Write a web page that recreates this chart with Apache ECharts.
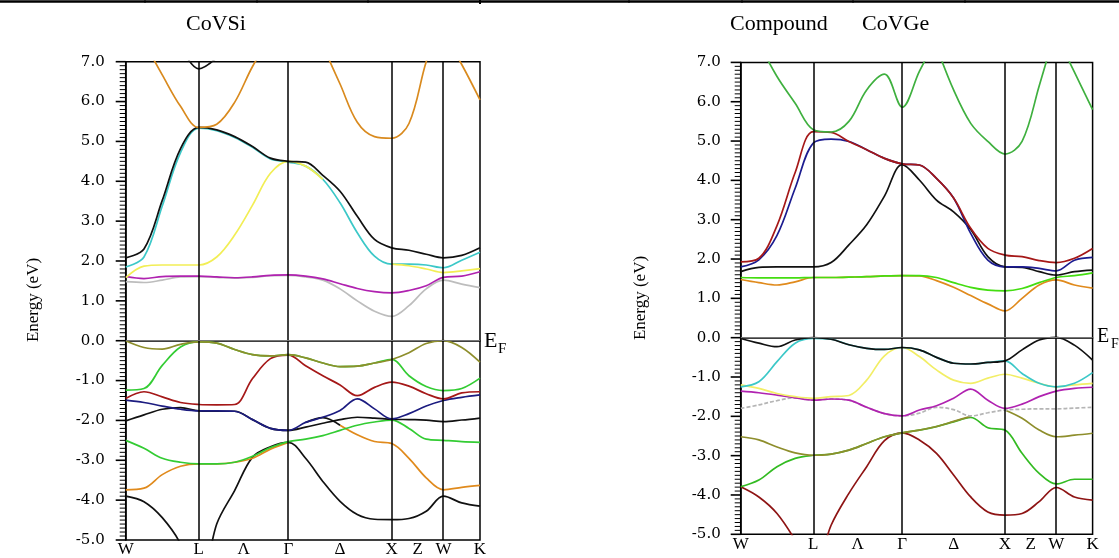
<!DOCTYPE html>
<html>
<head>
<meta charset="utf-8">
<script src="https://cdn.jsdelivr.net/npm/echarts@6/dist/echarts.min.js"></script>
<style>
  html, body { margin: 0; padding: 0; background: #fff; }
  #chart { width: 1119px; height: 558px; }
</style>
</head>
<body>
<div id="chart"></div>
<script>
// k-path position (2pi/a units): W - L - Gamma - X - W - K
var kPath = [0, 0.1768, 0.3536, 0.5303, 0.7071, 0.8803, 1.0535, 1.2267, 1.3999, 1.5731,
             1.7398, 1.9064, 2.0731, 2.2398, 2.4064, 2.5731, 2.7398, 2.9064, 3.0731, 3.2499, 3.4267];
var kEnd = 3.4267;
var symK = [0.7071, 1.5731, 2.5731, 3.0731];
var labelK = [0, 0.7071, 1.1401, 1.5731, 2.0731, 2.5731, 2.8231, 3.0731, 3.4267];
var labelText = ["W", "L", "Λ", "Γ", "Δ", "X", "Z", "W", "K"];
var _ = "-";

// CoVSi bands (eV)
var siBlackLow  = [-3.9, -4.04, -4.44, -5.1, -6.3, -4.6, -3.76, -2.92, -2.66, -2.55, -2.95, -3.53, -4.03, -4.36, -4.48, -4.49, -4.46, -4.28, -3.9, -4.07, -4.15];
var siOrangeLow = [-3.74, -3.7, -3.36, -3.15, -3.09, -3.09, -3.05, -2.95, -2.72, -2.55, _, _, -2.12, -2.36, -2.53, -2.58, -2.95, -3.44, -3.74, -3.68, -3.63];
var siGreen2    = [-2.5, -2.7, -2.95, -3.05, -3.09, -3.09, -3.05, -2.9, -2.68, -2.53, -2.47, -2.38, -2.25, -2.12, -2.04, -1.99, -2.2, -2.47, -2.5, -2.53, -2.55];
var siBlack2    = [-2.01, -1.86, -1.72, -1.68, -1.76, -1.77, -1.77, -1.98, -2.2, -2.25, -2.17, -2.07, -1.98, -1.92, -1.94, -1.97, -1.98, -1.99, -2.03, -1.99, -1.94];
var siBlackBump = [_, _, _, _, _, _, _, _, _, _, -2.05, -1.93, -2.12, _, _, _, _, _, _, _, _];
var siBlue      = [-1.49, -1.55, -1.64, -1.72, -1.76, -1.76, -1.77, -1.98, -2.2, -2.25, -2.05, -1.92, -1.75, -1.46, -1.71, -1.96, -1.83, -1.64, -1.5, -1.42, -1.36];
var siRed       = [-1.45, -1.28, -1.41, -1.55, -1.6, -1.61, -1.6, -0.95, -0.45, -0.36, -0.63, -0.88, -1.11, -1.38, -1.17, -1.04, -1.14, -1.33, -1.46, -1.31, -1.28];
var siGreen1    = [-1.24, -1.2, -0.62, -0.16, -0.03, -0.06, -0.22, -0.35, -0.38, -0.35, -0.43, -0.56, -0.65, -0.64, -0.56, -0.47, -0.88, -1.15, -1.25, -1.2, -0.94];
var siOlive     = [0.0, -0.17, -0.21, -0.09, -0.03, -0.06, -0.22, -0.35, -0.38, -0.35, -0.43, -0.56, -0.65, -0.64, -0.56, -0.47, -0.3, -0.07, 0.0, -0.17, -0.54];
var siGray      = [1.48, 1.46, 1.52, 1.6, 1.61, 1.59, 1.57, 1.59, 1.63, 1.64, 1.6, 1.52, 1.3, 1.0, 0.74, 0.61, 0.88, 1.3, 1.52, 1.42, 1.33];
var siMagenta   = [1.61, 1.56, 1.61, 1.62, 1.62, 1.6, 1.58, 1.6, 1.64, 1.65, 1.62, 1.55, 1.43, 1.31, 1.23, 1.2, 1.26, 1.38, 1.59, 1.62, 1.73];
var siCyan      = [1.85, 2.1, 3.38, 4.72, 5.33, 5.27, 5.1, 4.85, 4.56, 4.48, 4.38, 4.05, 3.46, 2.71, 2.12, 1.92, 1.92, 1.9, 1.83, 2.02, 2.22];
var siYellow    = [1.58, 1.87, 1.9, 1.9, 1.9, 2.1, 2.65, 3.4, 4.2, 4.5, 4.38, 4.05, _, _, _, 1.92, 1.88, 1.8, 1.71, 1.75, 1.81];
var siBlack     = [2.08, 2.3, 3.52, 4.82, 5.35, 5.29, 5.12, 4.87, 4.58, 4.5, 4.48, 4.15, 3.75, 3.12, 2.54, 2.33, 2.27, 2.17, 2.08, 2.14, 2.33];
var siOrangeTop1 = [_, 7.5, 6.67, 5.88, 5.35, 5.43, 5.98, 6.88, 7.6, _, _, _, _, _, _, _, _, _, _, _, _];
var siOrangeTop2 = [_, _, _, _, _, _, _, _, _, _, _, 7.4, 6.44, 5.48, 5.12, 5.08, 5.45, 7.0, 8.2, _, _];
var siOrangeTop3 = [_, _, _, _, _, _, _, _, _, _, _, _, _, _, _, _, _, _, 7.7, 6.93, 6.04];
var siBlackTop   = [_, _, _, 7.4, 6.82, 7.1, _, _, _, _, _, _, _, _, _, _, _, _, _, _, _];

// CoVGe bands (eV)
var geRedLow    = [-3.79, -4.05, -4.47, -5.15, -6.0, -4.77, -3.96, -3.28, -2.62, -2.42, -2.6, -2.94, -3.49, -4.05, -4.43, -4.51, -4.47, -4.17, -3.81, -4.05, -4.13];
var geGreenVal  = [-3.79, -3.62, -3.28, -3.07, -2.99, -2.96, -2.86, -2.69, -2.52, -2.42, -2.35, -2.26, -2.14, -2.03, -2.29, -2.35, -2.94, -3.45, -3.72, -3.6, -3.6];
var geOlive     = [-2.52, -2.6, -2.78, -2.93, -2.99, -2.96, -2.86, -2.69, -2.52, -2.42, -2.35, -2.26, -2.13, -2.0, _, -1.84, -2.05, -2.35, -2.52, -2.48, -2.43];
var geGray      = [-1.8, -1.71, -1.6, -1.53, -1.59, -1.56, -1.59, -1.77, -1.93, -1.99, -1.92, -1.77, -1.83, -1.99, -1.91, -1.84, -1.82, -1.81, -1.81, -1.79, -1.77];
var geMagenta   = [-1.36, -1.4, -1.46, -1.53, -1.59, -1.56, -1.59, -1.77, -1.93, -1.99, -1.84, -1.73, -1.54, -1.31, -1.59, -1.8, -1.69, -1.5, -1.36, -1.29, -1.26];
var geYellow    = [-1.2, -1.29, -1.42, -1.5, -1.54, -1.5, -1.47, -1.08, -0.46, -0.25, -0.48, -0.82, -1.08, -1.16, -1.03, -0.93, -1.03, -1.16, -1.25, -1.2, -1.16];
var geCyan      = [-1.25, -1.12, -0.61, -0.14, -0.02, -0.04, -0.18, -0.27, -0.3, -0.25, -0.31, -0.5, -0.65, -0.67, -0.63, -0.59, -0.91, -1.16, -1.25, -1.16, -0.89];
var geBlackVal  = [-0.02, -0.14, -0.23, -0.06, 0.0, -0.04, -0.18, -0.27, -0.3, -0.25, -0.31, -0.5, -0.65, -0.67, -0.63, -0.59, -0.31, -0.06, 0.01, -0.19, -0.57];
var geOrangeMid = [1.48, 1.4, 1.34, 1.42, 1.53, 1.53, 1.54, 1.55, 1.57, 1.58, 1.57, 1.45, 1.28, 1.07, 0.86, 0.68, 1.0, 1.34, 1.47, 1.34, 1.26];
var geGreenMid  = [1.53, 1.52, 1.52, 1.52, 1.53, 1.53, 1.54, 1.55, 1.57, 1.58, 1.58, 1.53, 1.4, 1.28, 1.21, 1.19, 1.25, 1.4, 1.53, 1.58, 1.65];
var geBlack     = [1.68, 1.79, 1.8, 1.8, 1.8, 1.91, 2.36, 2.87, 3.6, 4.4, 4.01, 3.5, 3.2, 2.75, 2.06, 1.8, 1.79, 1.68, 1.59, 1.68, 1.72];
var geBlue      = [1.8, 1.98, 2.6, 3.8, 4.95, 5.05, 4.99, 4.78, 4.56, 4.42, 4.39, 4.05, 3.55, 2.65, 1.97, 1.8, 1.8, 1.76, 1.7, 1.97, 2.04];
var geRed       = [1.93, 2.02, 2.85, 4.2, 5.24, 5.22, 4.99, 4.78, 4.56, 4.42, 4.39, 4.05, 3.55, 2.78, 2.27, 2.1, 2.06, 1.96, 1.91, 2.02, 2.27];
var geGreenTop1 = [_, 7.5, 6.64, 5.96, 5.29, 5.23, 5.5, 6.3, 6.7, 5.86, 6.77, 7.6, _, _, _, _, _, _, _, _, _];
var geGreenTop2 = [_, _, _, _, _, _, _, _, _, _, _, 7.4, 6.3, 5.45, 4.99, 4.67, 4.99, 6.4, 7.9, _, _];
var geGreenTop3 = [_, _, _, _, _, _, _, _, _, _, _, _, _, _, _, _, _, _, 7.7, 6.75, 5.8];

var siBands = [
  [siBlackLow, "#111"], [siOrangeLow, "#e08a1c"], [siGreen2, "#33cc33"], [siBlack2, "#111"],
  [siBlackBump, "#111"], [siBlue, "#1c1c80"], [siRed, "#a51818"], [siGreen1, "#33cc33"],
  [siOlive, "#8e8e2c"], [siGray, "#bdbdbd"], [siMagenta, "#b022b0"], [siCyan, "#3cc8c8"],
  [siYellow, "#f2ee55"], [siBlack, "#111"], [siOrangeTop1, "#d98a1e"], [siOrangeTop2, "#d98a1e"],
  [siOrangeTop3, "#d98a1e"], [siBlackTop, "#111"]
];
var geBands = [
  [geRedLow, "#8e1414"], [geGreenVal, "#33bb22"], [geOlive, "#8e8e2c"], [geGray, "#b5b5b5"],
  [geMagenta, "#b022b0"], [geYellow, "#f2ee66"], [geCyan, "#3cc8c8"], [geBlackVal, "#111"],
  [geOrangeMid, "#e08a1c"], [geGreenMid, "#44dd11"], [geBlack, "#111"], [geBlue, "#1c1c90"],
  [geRed, "#a51818"], [geGreenTop1, "#3fb03f"], [geGreenTop2, "#3fb03f"], [geGreenTop3, "#3fb03f"]
];

// y tick positions (eV)
var majorTicks = [], minorTicks = [];
for (var m = -50; m <= 70; m++) {
  if (m % 10 === 0) majorTicks.push(m / 10); else minorTicks.push(m / 10);
}

var serif = '"Liberation Serif", "DejaVu Serif", serif';
var numFont = '"DejaVu Serif", serif';

function makeX(idx) {
  return {
    gridIndex: idx, type: "value", min: 0, max: kEnd,
    axisLine: { show: true, lineStyle: { color: "#000", width: 1.5 } },
    axisTick: { show: false },
    splitLine: { show: false },
    axisLabel: {
      customValues: labelK, margin: idx === 0 ? 1 : 2,
      fontFamily: serif, fontSize: 17, color: "#000",
      formatter: function(v) {
        for (var i = 0; i < labelK.length; i++) {
          if (Math.abs(labelK[i] - v) < 1e-3) return labelText[i];
        }
        return "";
      }
    }
  };
}
function makeY(idx) {
  return {
    gridIndex: idx, type: "value", min: -5, max: 7, interval: 1,
    axisLine: { show: true, lineStyle: { color: "#000", width: 1.5 } },
    axisTick: { show: false },
    splitLine: { show: false },
    axisLabel: {
      margin: idx === 0 ? 21 : 20, fontFamily: numFont, fontSize: 15, color: "#000",
      formatter: function(v) { return v.toFixed(1); }
    }
  };
}

// tick marks drawn as thin rect symbols sitting just left of the y axis
function tickSeries(idx, vals, len, thick) {
  return {
    type: "scatter", xAxisIndex: idx, yAxisIndex: idx, clip: false, silent: true, z: 5,
    data: vals.map(function(v) { return [0, v]; }),
    symbol: "rect", symbolSize: [len, thick], symbolOffset: [-len / 2, 0],
    itemStyle: { color: "#000", opacity: 1 }
  };
}

function bandSeries(bands, idx) {
  var out = [];
  bands.forEach(function(b, n) {
    var s = {
      type: "line", xAxisIndex: idx, yAxisIndex: idx,
      data: kPath.map(function(k, i) { return [k, b[0][i]]; }),
      symbol: "none", smooth: 0.35, connectNulls: false, silent: true,
      lineStyle: { color: b[1], width: 1.7 }
    };
    if (idx === 1 && b[0] === geGray) s.lineStyle.type = [4, 2];
    if (n === 0) {
      s.markLine = {
        silent: true, symbol: ["none", "none"], label: { show: false },
        lineStyle: { color: "#000", width: 1.5, type: "solid" },
        data: symK.map(function(k) { return { xAxis: k }; }).concat([
          { yAxis: 0, lineStyle: { color: "#777", width: 1, type: "solid" } }
        ])
      };
    }
    out.push(s);
  });
  out.push(tickSeries(idx, majorTicks, 10, 1.6), tickSeries(idx, minorTicks, 6, 1));
  return out;
}

function txt(text, x, y, size, extra) {
  var o = { type: "text", x: x, y: y, silent: true,
    style: { text: text, font: size + "px " + serif, fill: "#000", align: "left", verticalAlign: "middle" } };
  if (extra) for (var key in extra) o[key] = extra[key];
  return o;
}
function seg(x1, y1, x2, y2, w) {
  return { type: "line", silent: true, shape: { x1: x1, y1: y1, x2: x2, y2: y2 }, style: { stroke: "#000", lineWidth: w } };
}

var graphics = [
  seg(0, 1.5, 1119, 1.5, 2.5),
  seg(145, 0, 145, 3, 1), seg(257, 0, 257, 3, 1), seg(368, 0, 368, 3, 1), seg(480, 0, 480, 4, 2),
  seg(629, 0, 629, 3, 1), seg(742, 0, 742, 3, 1), seg(853, 0, 853, 3, 1), seg(965, 0, 965, 3, 1),
  txt("CoVSi", 186, 24, 22),
  txt("Compound", 730, 24, 22),
  txt("CoVGe", 862, 24, 22),
  txt("E", 484, 341, 22), txt("F", 498, 349, 15),
  txt("E", 1097, 337, 20), txt("F", 1111, 344, 14)
];
var yl = txt("Energy (eV)", 34, 300, 17, { rotation: Math.PI / 2 });
yl.style.align = "center";
var yr = txt("Energy (eV)", 641, 298, 17, { rotation: Math.PI / 2 });
yr.style.align = "center";
graphics.push(yl, yr);

var chart = echarts.init(document.getElementById("chart"));
chart.setOption({
  animation: false,
  backgroundColor: "#fff",
  grid: [
    { left: 125.7, top: 61.7, width: 354.3, height: 480, show: true, borderColor: "#000", borderWidth: 1.5 },
    { left: 740.7, top: 62.4, width: 351.9, height: 471.9, show: true, borderColor: "#000", borderWidth: 1.5 }
  ],
  xAxis: [makeX(0), makeX(1)],
  yAxis: [makeY(0), makeY(1)],
  series: bandSeries(siBands, 0).concat(bandSeries(geBands, 1)),
  graphic: graphics
});
</script>
</body>
</html>
